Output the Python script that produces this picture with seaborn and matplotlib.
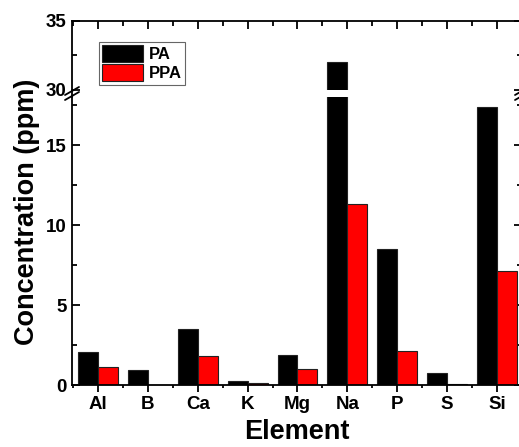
import matplotlib
matplotlib.use("Agg")
import matplotlib.pyplot as plt
import seaborn as sns
import pandas as pd
from matplotlib.lines import Line2D
from matplotlib.ticker import MultipleLocator

elements = ["Al", "B", "Ca", "K", "Mg", "Na", "P", "S", "Si"]
pa_values = [2.08, 0.94, 3.48, 0.25, 1.85, 32.0, 8.5, 0.77, 17.4]
ppa_values = [1.1, 0.02, 1.79, 0.15, 0.98, 11.3, 2.12, 0.08, 7.1]
series_names = ["PA", "PPA"]

df = pd.DataFrame({
    "Element": elements * 2,
    "Series": [series_names[0]] * len(elements) + [series_names[1]] * len(elements),
    "Concentration": pa_values + ppa_values,
})

sns.set_style("ticks", rc={"axes.edgecolor": "black", "text.color": "black",
                           "axes.labelcolor": "black", "xtick.color": "black",
                           "ytick.color": "black"})
plt.rcParams["font.family"] = ["Liberation Sans", "DejaVu Sans"]
plt.rcParams["font.weight"] = "bold"

W, H = 519, 447
fig = plt.figure(figsize=(W / 100, H / 100), dpi=100)

left = 72 / W
width = 450 / W
ax_lo = fig.add_axes([left, 1 - 385 / H, width, (385 - 97) / H])
ax_hi = fig.add_axes([left, 1 - 90 / H, width, (90 - 21) / H])

palette = {"PA": "black", "PPA": "#ff0000"}
for ax in (ax_lo, ax_hi):
    sns.barplot(data=df, x="Element", y="Concentration", hue="Series",
                order=elements, hue_order=series_names, palette=palette,
                saturation=1, errorbar=None, width=0.8, edgecolor="#222222",
                linewidth=0.8, ax=ax, legend=(ax is ax_hi))
    ax.set_xlim(-0.52, 8.5)
    ax.set_xlabel("")
    ax.set_ylabel("")
    for s in ax.spines.values():
        s.set_linewidth(1.3)
        s.set_color("black")

ax_lo.set_ylim(0, 18)
ax_hi.set_ylim(30, 35)

# lower axes
ax_lo.spines["top"].set_visible(False)
ax_lo.yaxis.set_major_locator(MultipleLocator(5))
ax_lo.yaxis.set_minor_locator(MultipleLocator(2.5))
ax_lo.xaxis.set_minor_locator(MultipleLocator(0.5))
ax_lo.xaxis.set_ticks_position("bottom")
ax_lo.tick_params(axis="y", which="both", direction="in", right=True, left=True,
                  color="black")
ax_lo.tick_params(axis="y", which="major", length=6, width=1.3, labelsize=13.5, pad=4)
ax_lo.tick_params(axis="y", which="minor", length=3.5, width=1.3)
ax_lo.tick_params(axis="x", which="major", direction="out", length=5, width=1.3,
                  labelsize=13.5, pad=3, color="black")
ax_lo.tick_params(axis="x", which="minor", direction="out", length=2.5, width=1.3,
                  color="black")
for lab in ax_lo.get_xticklabels() + ax_lo.get_yticklabels():
    lab.set_fontweight("bold")

# upper axes
ax_hi.spines["bottom"].set_visible(False)
ax_hi.yaxis.set_major_locator(MultipleLocator(5))
ax_hi.yaxis.set_minor_locator(MultipleLocator(2.5))
ax_hi.xaxis.set_major_locator(MultipleLocator(1))
ax_hi.xaxis.set_minor_locator(MultipleLocator(0.5))
ax_hi.xaxis.set_ticks_position("top")
ax_hi.tick_params(axis="x", which="both", labeltop=False, labelbottom=False,
                  direction="in", width=1.3, color="black")
ax_hi.tick_params(axis="x", which="major", length=6)
ax_hi.tick_params(axis="x", which="minor", length=3.5)
ax_hi.tick_params(axis="y", which="both", direction="in", right=True, left=True,
                  color="black")
ax_hi.tick_params(axis="y", which="major", length=6, width=1.3, labelsize=13.5, pad=4)
ax_hi.tick_params(axis="y", which="minor", length=3.5, width=1.3)
for lab in ax_hi.get_yticklabels():
    lab.set_fontweight("bold")

# legend
leg = ax_hi.get_legend()
handles, labels = ax_hi.get_legend_handles_labels()
leg.remove()
leg = ax_hi.legend(handles, labels, loc="upper left", bbox_to_anchor=(0.06, 0.70),
                   borderaxespad=0, frameon=True, fancybox=False, framealpha=1,
                   edgecolor="#666666", prop={"weight": "bold", "size": 12},
                   handlelength=2.45, handleheight=1.2, labelspacing=0.12,
                   handletextpad=0.35, borderpad=0.2)
leg.get_frame().set_linewidth(0.8)

# connect spines through the break and draw break marks
for xp in (72, 522):
    fig.add_artist(Line2D([xp / W, xp / W], [1 - 90 / H, 1 - 97 / H],
                          transform=fig.transFigure, color="black", lw=1.3))
    for dy in (-2.5, 2.5):
        yc = 93.5 + dy
        fig.add_artist(Line2D([(xp - 7) / W, (xp + 7) / W],
                              [1 - (yc + 4) / H, 1 - (yc - 4) / H],
                              transform=fig.transFigure, color="black", lw=1.3))

fig.text(297 / W, 1 - 432 / H, "Element", ha="center", va="center",
         fontsize=19.5, fontweight="bold")
fig.text(27 / W, 1 - 212 / H, "Concentration (ppm)", ha="center", va="center",
         rotation=90, fontsize=19.5, fontweight="bold")

fig.savefig("out.png", dpi=100)
